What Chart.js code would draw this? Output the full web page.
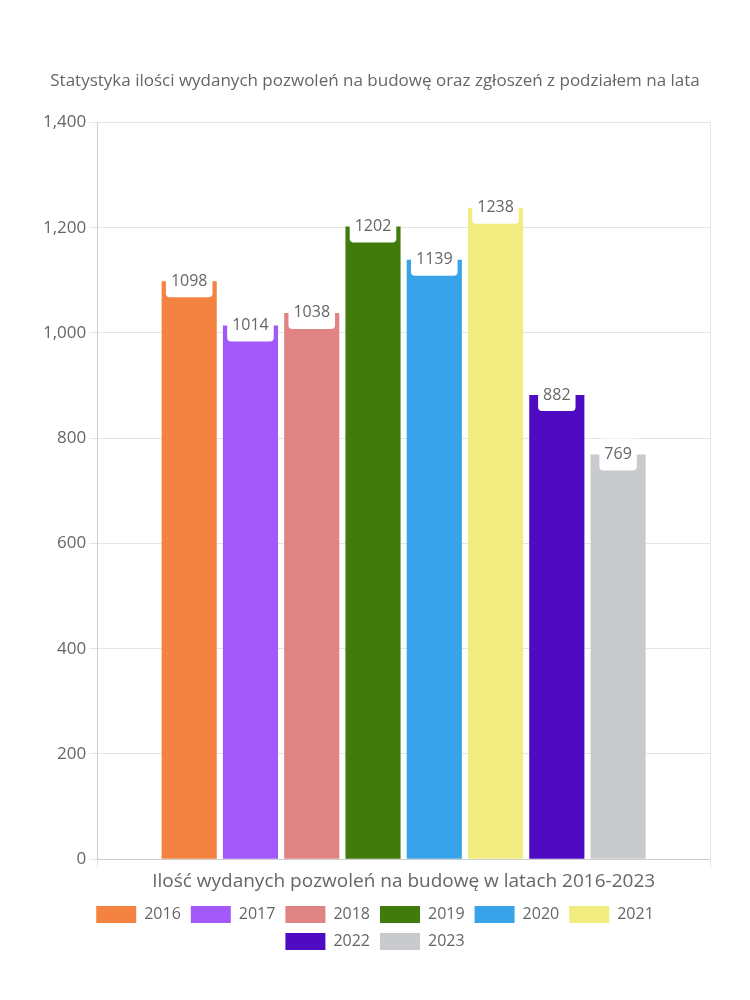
<!DOCTYPE html>
<html>
<head>
<meta charset="utf-8">
<script src="https://cdn.jsdelivr.net/npm/chart.js@4"></script>
<style>
  html, body { margin: 0; padding: 0; background: #fff; }
  #wrap { width: 750px; height: 1000px; }
</style>
</head>
<body>
<div id="wrap"><canvas id="myChart"></canvas></div>
<script>
var years = ['2016', '2017', '2018', '2019', '2020', '2021', '2022', '2023'];
var permits = [1098, 1014, 1038, 1202, 1139, 1238, 882, 769];
var colors = ['#F48342', '#A259FA', '#E08383', '#407B0C', '#38A3E8', '#F0EC80', '#4F0BC1', '#C9CACD'];
var categoryLabel = ['Ilość wydanych pozwoleń na budowę w latach 2016-2023'];
var titleText = 'Statystyka ilości wydanych pozwoleń na budowę oraz zgłoszeń z podziałem na lata';

var FONT = "'Open Sans', sans-serif";
Chart.defaults.font.family = FONT;
Chart.defaults.color = '#666';

// white label boxes on the bar tops
var barLabels = {
    id: 'barLabels',
    afterDatasetsDraw: function(chart) {
        var ctx = chart.ctx;
        ctx.save();
        ctx.font = '16px ' + FONT;
        ctx.textAlign = 'center';
        ctx.textBaseline = 'middle';
        chart.data.datasets.forEach(function(ds, i) {
            var bar = chart.getDatasetMeta(i).data[0];
            var txt = String(ds.data[0]);
            var w = ctx.measureText(txt).width + 10;
            var h = 32;
            ctx.fillStyle = '#fff';
            ctx.beginPath();
            ctx.roundRect(bar.x - w / 2, bar.y - h / 2, w, h, 4);
            ctx.fill();
            ctx.fillStyle = '#666';
            ctx.fillText(txt, bar.x, bar.y);
        });
        ctx.restore();
    }
};

var datasets = years.map(function(y, i) {
    return {
        label: y,
        data: [permits[i]],
        backgroundColor: colors[i]
    };
});

var ctx = document.getElementById('myChart').getContext('2d');
var chart = new Chart(ctx, {
    type: 'bar',
    data: { labels: categoryLabel, datasets: datasets },
    options: {
        responsive: true,
        maintainAspectRatio: false,
        animation: false,
        layout: { padding: { top: 71, left: 40, right: 40, bottom: 40 } },
        plugins: {
            title: {
                display: true,
                text: titleText,
                font: { size: 17, weight: 'normal' },
                padding: { top: 0, bottom: 31 }
            },
            legend: {
                position: 'bottom',
                labels: { font: { size: 16 }, boxWidth: 40, boxHeight: 17 }
            },
            tooltip: { enabled: false }
        },
        scales: {
            x: {
                ticks: { font: { size: 19 } },
                grid: { color: '#e5e5e5' }
            },
            y: {
                min: 0,
                max: 1400,
                ticks: { stepSize: 200, font: { size: 17 } },
                grid: { color: '#e5e5e5' }
            }
        }
    },
    plugins: [barLabels]
});
</script>
</body>
</html>
